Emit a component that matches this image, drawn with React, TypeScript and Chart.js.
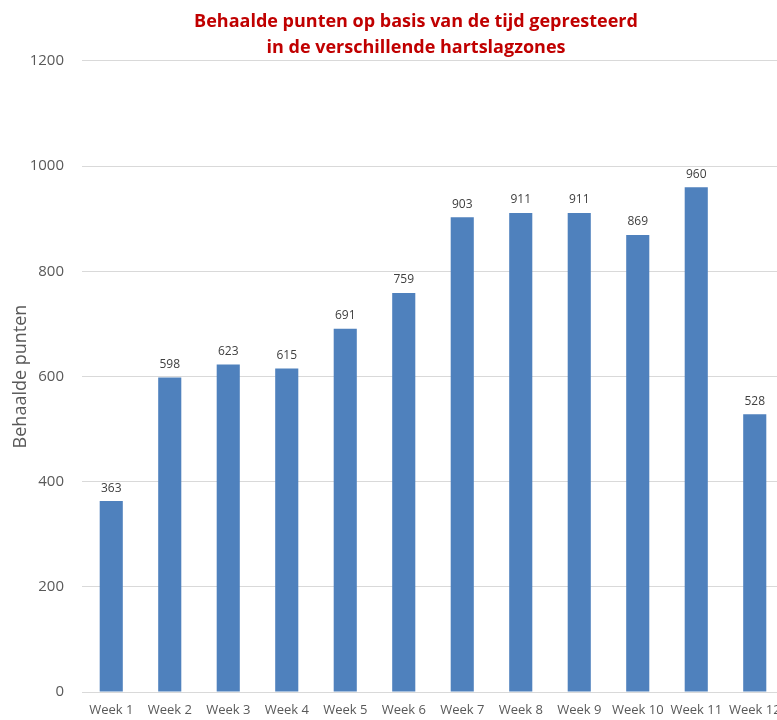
import React, { useEffect, useRef } from "react";
import { Chart, registerables } from "chart.js";

Chart.register(...registerables);

const categories = [
  "Week 1", "Week 2", "Week 3", "Week 4", "Week 5", "Week 6",
  "Week 7", "Week 8", "Week 9", "Week 10", "Week 11", "Week 12",
];
const points = [363, 598, 623, 615, 691, 759, 903, 911, 911, 869, 960, 528];
const titleLines = [
  "Behaalde punten op basis van de tijd gepresteerd",
  "in de verschillende hartslagzones",
];
const yTitle = "Behaalde punten";

const FONT = "'Open Sans', 'DejaVu Sans', sans-serif";

const labelPlugin = {
  id: "barValueLabels",
  afterDatasetsDraw(chart: any) {
    const ctx = chart.ctx;
    const meta = chart.getDatasetMeta(0);
    ctx.save();
    ctx.font = `12px ${FONT}`;
    ctx.fillStyle = "#404040";
    ctx.textAlign = "center";
    ctx.textBaseline = "bottom";
    meta.data.forEach((el: any, i: number) => {
      ctx.fillText(String(points[i]), el.x, el.y - 7);
    });
    ctx.restore();
  },
};

export default function App() {
  const ref = useRef<HTMLCanvasElement | null>(null);
  useEffect(() => {
    if (!ref.current) return;
    const chart = new Chart(ref.current, {
      type: "bar",
      data: {
        labels: categories,
        datasets: [
          {
            data: points,
            backgroundColor: "#4F81BD",
            borderWidth: 0,
            categoryPercentage: 1,
            barPercentage: 0.395,
          },
        ],
      },
      options: {
        responsive: false,
        animation: false,
        devicePixelRatio: 1,
        layout: { padding: 0 },
        plugins: {
          legend: { display: false },
          tooltip: { enabled: false },
          title: {
            display: true,
            text: titleLines,
            color: "#C00000",
            font: { family: FONT, size: 18, weight: "bold", lineHeight: 1.444 },
            padding: { top: 9, bottom: 0 },
          },
        },
        scales: {
          x: {
            grid: { display: false, drawTicks: false },
            border: { display: true, color: "#D9D9D9", width: 1 },
            ticks: {
              color: "#595959",
              font: { family: FONT, size: 13 },
              padding: 10,
              maxRotation: 0,
              autoSkip: false,
            },
            afterFit(scale: any) {
              scale.height = 28;
            },
          },
          y: {
            min: 0,
            max: 1200,
            grid: { color: "#D9D9D9", drawTicks: false, lineWidth: 1 },
            border: { display: false },
            ticks: {
              stepSize: 200,
              color: "#595959",
              font: { family: FONT, size: 15 },
              padding: 18,
              callback: (v: any) => String(v),
            },
            title: {
              display: true,
              text: yTitle,
              color: "#595959",
              font: { family: FONT, size: 18 },
              padding: { top: 10, bottom: 0 },
            },
            afterFit(scale: any) {
              scale.width = 82;
            },
          },
          yRight: {
            position: "right",
            display: true,
            min: 0,
            max: 1200,
            grid: { display: false, drawTicks: false },
            border: { display: false },
            ticks: { display: false },
            afterFit(scale: any) {
              scale.width = 48;
            },
          },
        },
      },
      plugins: [labelPlugin],
    });
    return () => chart.destroy();
  }, []);

  return (
    <div
      style={{
        position: "fixed",
        left: 0,
        top: 0,
        width: 777,
        height: 720,
        overflow: "hidden",
        background: "#ffffff",
      }}
    >
      <canvas ref={ref} width={832} height={720} style={{ display: "block" }} />
    </div>
  );
}
